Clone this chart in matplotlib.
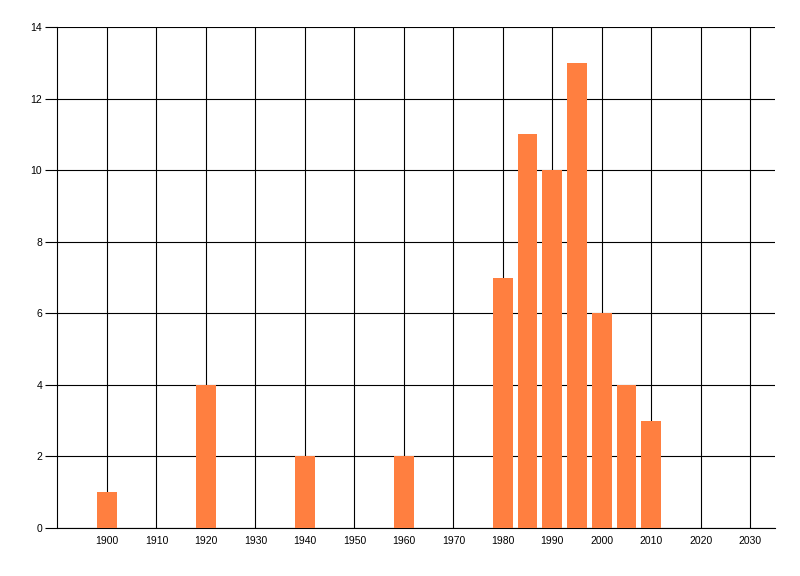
import matplotlib
matplotlib.use("Agg")
import matplotlib.pyplot as plt

years = [1900, 1920, 1940, 1960, 1980, 1985, 1990, 1995, 2000, 2005, 2010]
counts = [1, 4, 2, 2, 7, 11, 10, 13, 6, 4, 3]
x_ticks = list(range(1900, 2031, 10))
y_ticks = list(range(0, 15, 2))

plt.rcParams['font.family'] = ['Liberation Sans', 'DejaVu Sans']

fig = plt.figure(figsize=(8, 5.76), dpi=100)
ax = fig.add_axes([57.5 / 800, 1 - 528 / 576, (775 - 57.5) / 800, (528 - 27) / 576])

ax.set_axisbelow(True)
ax.grid(True, color='black', linewidth=0.8)
ax.bar(years, counts, width=4, color='#FF7F40', zorder=3)

ax.set_xlim(1890, 2035)
ax.set_ylim(0, 14)
ax.set_xticks(x_ticks)
ax.set_yticks(y_ticks)
ax.tick_params(axis='x', length=0, pad=6, labelsize=7.5, colors='black')
ax.tick_params(axis='y', length=9, width=0.8, pad=2, labelsize=7.5, colors='black')

for side in ['top', 'right']:
    ax.spines[side].set_visible(False)
for side in ['left', 'bottom']:
    ax.spines[side].set_linewidth(0.8)
    ax.spines[side].set_color('black')

fig.savefig('out.png', dpi=100)
